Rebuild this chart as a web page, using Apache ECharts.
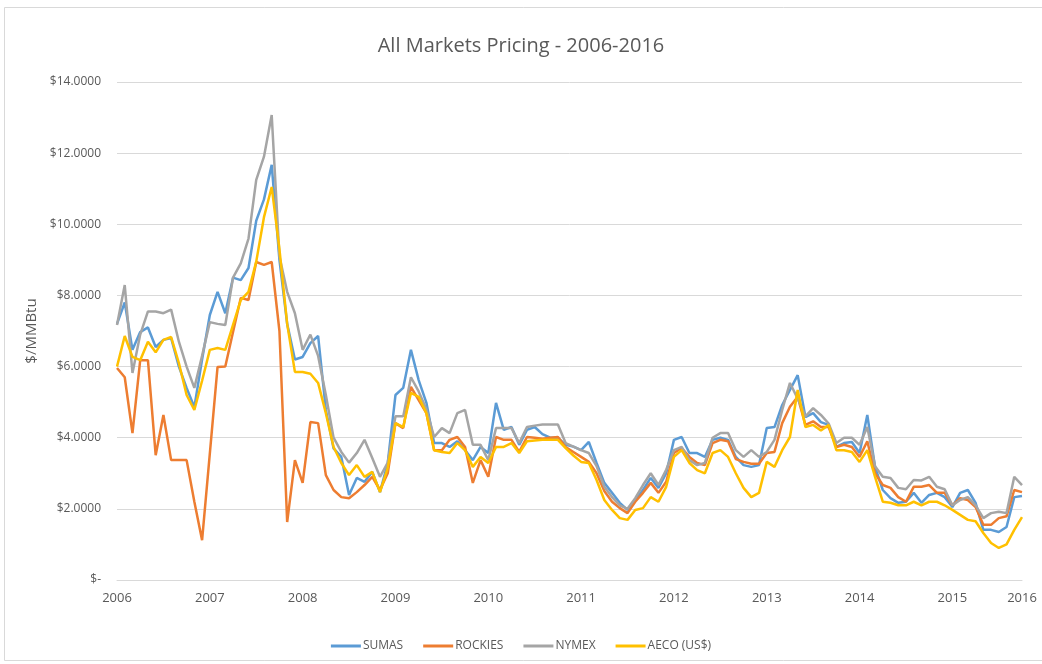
<!DOCTYPE html>
<html>
<head>
<meta charset="utf-8">
<title>All Markets Pricing - 2006-2016</title>
<script src="https://cdn.jsdelivr.net/npm/echarts@6/dist/echarts.min.js"></script>
<style>
  html, body { margin: 0; padding: 0; background: #fff; }
  #chart { width: 1042px; height: 664px; }
</style>
</head>
<body>
<div id="chart"></div>
<script>
// tick labels along the bottom (one per January, last one at the final point)
const yearTicks = ['2006', '2007', '2008', '2009', '2010', '2011', '2012', '2013', '2014', '2015', '2016'];

// monthly prices, $/MMBtu
const sumas = [
    7.2, 7.8, 6.47, 6.97, 7.1, 6.55, 6.75, 6.8, 6.0, 5.4, 4.86, 6.2,
    7.45, 8.1, 7.5, 8.5, 8.43, 8.77, 10.1, 10.7, 11.67, 9.0, 7.2, 6.2,
    6.27, 6.66, 6.86, 4.78, 3.7, 3.46, 2.39, 2.87, 2.76, 3.04, 2.47, 3.29,
    5.2, 5.4, 6.47, 5.62, 4.98, 3.85, 3.85, 3.74, 3.9, 3.65, 3.37, 3.74,
    3.57, 4.98, 4.22, 4.3, 3.8, 4.22, 4.3, 4.1, 4.0, 4.0, 3.8, 3.75,
    3.65, 3.88, 3.29, 2.73, 2.45, 2.17, 1.97, 2.25, 2.53, 2.87, 2.59, 3.0,
    3.94, 4.02, 3.57, 3.57, 3.46, 3.94, 4.0, 3.94, 3.46, 3.23, 3.18, 3.23,
    4.27, 4.3, 4.92, 5.34, 5.76, 4.58, 4.69, 4.44, 4.36, 3.74, 3.85, 3.88,
    3.57, 4.64, 3.18, 2.53, 2.3, 2.17, 2.2, 2.45, 2.17, 2.39, 2.45, 2.33,
    2.05, 2.45, 2.53, 2.17, 1.41, 1.41, 1.35, 1.49, 2.33, 2.36
];
const rockies = [
    5.96, 5.7, 4.13, 6.18, 6.18, 3.51, 4.64, 3.37, 3.37, 3.37, 2.2, 1.12,
    3.55, 5.99, 6.0, 6.97, 7.93, 7.87, 8.94, 8.86, 8.94, 7.0, 1.63, 3.37,
    2.73, 4.44, 4.41, 2.95, 2.53, 2.33, 2.3, 2.47, 2.67, 2.9, 2.53, 3.0,
    4.41, 4.27, 5.43, 5.06, 4.69, 3.65, 3.65, 3.94, 4.02, 3.74, 2.73, 3.37,
    2.9, 4.02, 3.94, 3.94, 3.6, 4.02, 4.0, 3.97, 4.0, 4.02, 3.74, 3.6,
    3.46, 3.32, 3.0, 2.5, 2.2, 2.02, 1.88, 2.2, 2.45, 2.73, 2.45, 2.76,
    3.57, 3.71, 3.46, 3.29, 3.23, 3.85, 3.94, 3.9, 3.4, 3.32, 3.27, 3.27,
    3.57, 3.6, 4.41, 4.87, 5.15, 4.36, 4.46, 4.3, 4.3, 3.74, 3.8, 3.74,
    3.46, 3.9, 3.0, 2.67, 2.59, 2.33, 2.2, 2.62, 2.62, 2.67, 2.45, 2.45,
    2.1, 2.3, 2.25, 2.05, 1.55, 1.55, 1.74, 1.79, 2.53, 2.47
];
const nymex = [
    7.17, 8.29, 5.82, 6.9, 7.55, 7.55, 7.5, 7.6, 6.7, 6.0, 5.4, 6.3,
    7.25, 7.2, 7.17, 8.5, 8.9, 9.6, 11.25, 11.9, 13.07, 9.1, 8.1, 7.5,
    6.47, 6.9, 6.3, 5.2, 4.0, 3.6, 3.3, 3.57, 3.94, 3.43, 2.9, 3.3,
    4.6, 4.6, 5.7, 5.3, 4.8, 4.02, 4.27, 4.13, 4.69, 4.78, 3.8, 3.8,
    3.37, 4.27, 4.27, 4.27, 3.85, 4.3, 4.34, 4.37, 4.37, 4.37, 3.85, 3.75,
    3.65, 3.57, 3.2, 2.62, 2.33, 2.1, 2.0, 2.3, 2.67, 3.0, 2.67, 3.1,
    3.65, 3.74, 3.37, 3.23, 3.29, 4.0, 4.13, 4.13, 3.65, 3.46, 3.65, 3.46,
    3.6, 3.94, 4.78, 5.54, 5.1, 4.6, 4.83, 4.64, 4.4, 3.85, 4.0, 4.0,
    3.8, 4.3, 3.2, 2.9, 2.87, 2.59, 2.55, 2.81, 2.8, 2.9, 2.62, 2.55,
    2.1, 2.25, 2.33, 2.1, 1.74, 1.88, 1.92, 1.88, 2.9, 2.67
];
const aeco = [
    6.0, 6.86, 6.27, 6.18, 6.7, 6.4, 6.75, 6.83, 6.1, 5.2, 4.78, 5.6,
    6.47, 6.52, 6.47, 7.17, 7.87, 8.1, 8.95, 10.2, 11.05, 9.3, 7.2, 5.85,
    5.85, 5.8, 5.54, 4.69, 3.74, 3.29, 2.95, 3.23, 2.9, 3.04, 2.47, 3.15,
    4.41, 4.3, 5.26, 5.15, 4.69, 3.65, 3.6, 3.57, 3.85, 3.65, 3.18, 3.46,
    3.29, 3.74, 3.74, 3.85, 3.57, 3.9, 3.92, 3.94, 3.94, 3.94, 3.71, 3.5,
    3.32, 3.29, 2.81, 2.25, 1.97, 1.74, 1.69, 1.97, 2.02, 2.33, 2.2, 2.62,
    3.46, 3.65, 3.29, 3.09, 3.0, 3.57, 3.65, 3.46, 3.0, 2.59, 2.33, 2.45,
    3.32, 3.18, 3.65, 4.02, 5.34, 4.3, 4.36, 4.2, 4.36, 3.65, 3.65, 3.6,
    3.32, 3.65, 2.9, 2.2, 2.17, 2.1, 2.1, 2.2, 2.1, 2.2, 2.2, 2.1,
    1.97, 1.83, 1.69, 1.65, 1.32, 1.04, 0.9, 1.0, 1.41, 1.77
];

const seriesNames = ['SUMAS', 'ROCKIES', 'NYMEX', 'AECO (US$)'];
const seriesColors = ['#5b9bd5', '#ed7d31', '#a5a5a5', '#ffc000'];

// category per month, labelled only at each January and at the last point
const categories = sumas.map(function (v, i) {
    if (i % 12 === 0) return yearTicks[i / 12];
    if (i === sumas.length - 1) return yearTicks[yearTicks.length - 1];
    return '';
});

const font = '"Liberation Sans Narrow", "Open Sans", sans-serif';
const textColor = '#595959';

var chart = echarts.init(document.getElementById('chart'));

var option = {
    backgroundColor: '#fff',
    animation: false,
    title: {
        text: 'All Markets Pricing - 2006-2016',
        left: 'center',
        top: 31,
        textStyle: { fontFamily: font, fontSize: 20, fontWeight: 'normal', color: textColor }
    },
    legend: {
        bottom: 7,
        left: 'center',
        itemWidth: 30,
        itemHeight: 3,
        itemGap: 20,
        icon: 'rect',
        data: seriesNames,
        textStyle: { fontFamily: font, fontSize: 12, color: textColor, padding: [0, 0, 0, -3] }
    },
    grid: { left: 117, right: 20, top: 82, bottom: 84 },
    xAxis: {
        type: 'category',
        boundaryGap: false,
        data: categories,
        axisTick: { show: false },
        axisLine: { lineStyle: { color: '#d9d9d9', width: 1 } },
        axisLabel: { interval: 0, margin: 12, fontFamily: font, fontSize: 13, color: textColor },
        splitLine: { show: false }
    },
    yAxis: {
        type: 'value',
        min: 0,
        max: 14,
        interval: 2,
        name: '$/MMBtu',
        nameLocation: 'middle',
        nameGap: 74,
        nameTextStyle: { fontFamily: font, fontSize: 15, color: textColor },
        axisLine: { show: false },
        axisTick: { show: false },
        axisLabel: {
            margin: 16,
            fontFamily: font,
            fontSize: 12,
            color: textColor,
            formatter: function (v) { return v === 0 ? '$-' : '$' + v.toFixed(4); }
        },
        splitLine: { lineStyle: { color: '#d9d9d9', width: 1 } }
    },
    graphic: [{
        type: 'rect',
        shape: { x: 4.5, y: 7.5, width: 1045, height: 653 },
        style: { fill: null, stroke: '#d9d9d9', lineWidth: 1 },
        silent: true
    }],
    series: [sumas, rockies, nymex, aeco].map(function (d, k) {
        return {
            name: seriesNames[k],
            type: 'line',
            data: d,
            showSymbol: false,
            symbol: 'none',
            color: seriesColors[k],
            lineStyle: { width: 2.5, color: seriesColors[k] }
        };
    })
};

chart.setOption(option);
</script>
</body>
</html>
